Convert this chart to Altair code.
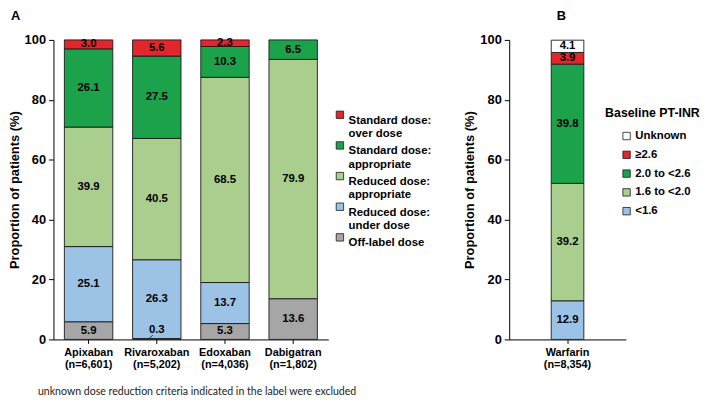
import altair as alt
import pandas as pd

# ---------------- data ----------------
drugs = ["Apixaban", "Rivaroxaban", "Edoxaban", "Dabigatran"]
drug_n = ["(n=6,601)", "(n=5,202)", "(n=4,036)", "(n=1,802)"]

# legend order (top to bottom) == reverse of stacking order
dose_groups = ["Standard dose:|over dose", "Standard dose:|appropriate",
               "Reduced dose:|appropriate", "Reduced dose:|under dose",
               "Off-label dose"]
dose_colors = ["#E3262B", "#1BA24A", "#A9CE8E", "#9CC2E5", "#A6A6A6"]

off_label = [5.9, 0.3, 5.3, 13.6]
reduced_under = [25.1, 26.3, 13.7, 0.0]
reduced_appr = [39.9, 40.5, 68.5, 79.9]
standard_appr = [26.1, 27.5, 10.3, 6.5]
standard_over = [3.0, 5.6, 2.3, 0.0]

warfarin = ["Warfarin"]
warfarin_n = ["(n=8,354)"]
inr_groups = ["Unknown", "≥2.6", "2.0 to <2.6", "1.6 to <2.0", "<1.6"]
inr_colors = ["#FFFFFF", "#E3262B", "#1BA24A", "#A9CE8E", "#9CC2E5"]
inr_values = [4.1, 3.9, 39.8, 39.2, 12.9]

footnote = "unknown dose reduction criteria indicated in the label were excluded"

# ---------------- tables ----------------
series_a = [off_label, reduced_under, reduced_appr, standard_appr, standard_over]
groups_bottom_up = dose_groups[::-1]
rows = []
for i, d in enumerate(drugs):
    for k, (g, vals) in enumerate(zip(groups_bottom_up, series_a)):
        if vals[i] > 0:
            rows.append({"drug": d + "|" + drug_n[i], "group": g, "value": vals[i], "order": k})
df_a = pd.DataFrame(rows)
drug_order = [d + "|" + n for d, n in zip(drugs, drug_n)]

rows_b = []
for k, (g, v) in enumerate(zip(inr_groups[::-1], inr_values[::-1])):
    rows_b.append({"drug": warfarin[0] + "|" + warfarin_n[0], "group": g, "value": v, "order": k})
df_b = pd.DataFrame(rows_b)

FONT = "Liberation Sans"

def y_axis():
    return alt.Axis(title="Proportion of patients (%)", values=[0, 20, 40, 60, 80, 100],
                    grid=False, tickSize=5, labelPadding=3, titlePadding=3,
                    labelFontSize=13, titleFontSize=13)

def x_axis():
    return alt.Axis(title=None, labelAngle=0, labelExpr="split(datum.label, '|')",
                    labelLineHeight=12.5, labelPadding=3, tickSize=4, labelFontSize=11)

# ---------------- panel A ----------------
base_a = alt.Chart(df_a).transform_stack(
    stack="value", groupby=["drug"], as_=["y0", "y1"],
    sort=[alt.SortField("order", order="ascending")]
).transform_calculate(
    mid="datum.value < 1 ? datum.y0 + 3 : (datum.y0 + datum.y1) / 2",
    lead="datum.y0 + 1.4"
)

xa = alt.X("drug:N", sort=drug_order,
           scale=alt.Scale(paddingInner=0.29, paddingOuter=0.16), axis=x_axis())

bars_a = base_a.mark_bar(stroke="#1a1a1a", strokeWidth=0.9).encode(
    x=xa,
    y=alt.Y("y0:Q", scale=alt.Scale(domain=[0, 100], clamp=True, nice=False), axis=y_axis()),
    y2="y1:Q",
    color=alt.Color("group:N", scale=alt.Scale(domain=dose_groups, range=dose_colors),
                    legend=alt.Legend(title=None, orient="none", legendX=284, legendY=70,
                                      labelExpr="split(datum.label, '|')",
                                      symbolType="square", symbolSize=56,
                                      symbolStrokeColor="#1a1a1a", symbolStrokeWidth=0.8,
                                      labelFontSize=11.5, labelLimit=200, labelOffset=3,
                                      rowPadding=-0.5, labelBaseline="top")),
)
text_a = base_a.mark_text(font=FONT, fontWeight="bold", fontSize=11.5, color="black").encode(
    x=xa, y=alt.Y("mid:Q"), text=alt.Text("value:Q", format=".1f"))
lead_a = base_a.transform_filter("datum.value < 1").mark_rule(
    color="#1a1a1a", strokeWidth=0.8, xOffset=-8, x2Offset=-4).encode(
    x=xa, x2=alt.X2("drug:N"), y="y1:Q", y2="lead:Q")

chart_a = alt.layer(bars_a, lead_a, text_a).properties(
    width=278, height=303,
    title=alt.TitleParams("A", anchor="start", frame="group", dx=-43, dy=-4, fontSize=13,
                          fontWeight="bold", font=FONT, offset=7))

# ---------------- panel B ----------------
base_b = alt.Chart(df_b).transform_stack(
    stack="value", groupby=["drug"], as_=["y0", "y1"],
    sort=[alt.SortField("order", order="ascending")]
).transform_calculate(mid="(datum.y0 + datum.y1) / 2")

xb = alt.X("drug:N", scale=alt.Scale(paddingInner=0.5, paddingOuter=0.644), axis=x_axis())

bars_b = base_b.mark_bar(stroke="#1a1a1a", strokeWidth=0.9).encode(
    x=xb,
    y=alt.Y("y0:Q", scale=alt.Scale(domain=[0, 100], clamp=True, nice=False), axis=y_axis()),
    y2="y1:Q",
    color=alt.Color("group:N", scale=alt.Scale(domain=inr_groups, range=inr_colors),
                    legend=alt.Legend(title="Baseline PT-INR", orient="none",
                                      legendX=97, legendY=68,
                                      titleFontSize=12.5, titleFontWeight="bold",
                                      titleFont=FONT, titleColor="black", titlePadding=11,
                                      symbolType="square", symbolSize=56, symbolOffset=16,
                                      symbolStrokeColor="#1a1a1a", symbolStrokeWidth=0.8,
                                      labelFontSize=11.5, labelOffset=3, rowPadding=6)),
)
text_b = base_b.mark_text(font=FONT, fontWeight="bold", fontSize=11.5, color="black").encode(
    x=xb, y=alt.Y("mid:Q"), text=alt.Text("value:Q", format=".1f"))

chart_b = alt.layer(bars_b, text_b).properties(
    width=118, height=303,
    title=alt.TitleParams("B", anchor="start", frame="group", dx=48, dy=-4, fontSize=13,
                          fontWeight="bold", font=FONT, offset=7))

chart = alt.hconcat(chart_a, chart_b, spacing=32).resolve_scale(
    color="independent"
).properties(
    padding={"left": 0, "top": 0, "right": 0, "bottom": 0},
    title=alt.TitleParams(footnote, orient="bottom", anchor="start", frame="bounds",
                          dx=30, offset=18, fontSize=10.7, fontWeight="normal",
                          font="Lato", color="#222222")
).configure_view(stroke=None).configure_axis(
    labelFont=FONT, titleFont=FONT, labelFontWeight="bold", titleFontWeight="bold",
    labelColor="black", titleColor="black", domainColor="black", tickColor="black",
    domainWidth=1, tickWidth=1
).configure_legend(
    labelFont=FONT, labelFontWeight="bold", labelColor="black"
)

chart.save("out.html", embed_options={"renderer": "svg", "actions": False})
